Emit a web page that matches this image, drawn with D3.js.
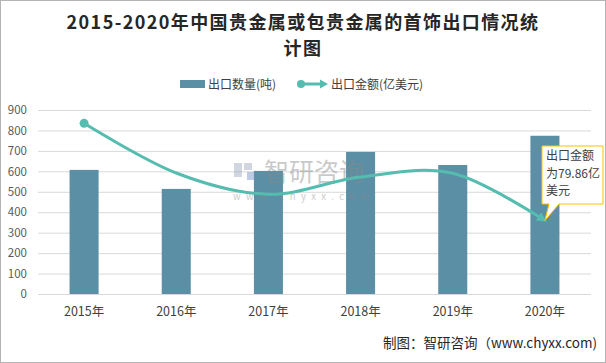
<!DOCTYPE html>
<html>
<head>
<meta charset="utf-8">
<script src="https://cdn.jsdelivr.net/npm/d3@7"></script>
<style>
  body { margin: 0; background: #fff; }
  text { font-family: "Noto Sans CJK SC", "Noto Sans", sans-serif; }
</style>
</head>
<body>
<div id="chart"></div>
<script>
// data
const years = ['2015年', '2016年', '2017年', '2018年', '2019年', '2020年'];
const quantity = [607, 514, 602, 695, 631, 774];          // 出口数量(吨)
const amount = [185.5, 131.5, 108.4, 127.2, 131.2, 79.86]; // 出口金额(亿美元)
const yTicks = [0, 100, 200, 300, 400, 500, 600, 700, 800, 900];

const width = 606;
const height = 363;
const barColor = '#5b8fa5';
const lineColor = '#55bcb0';

const svg = d3.select('#chart').append('svg')
    .attr('width', width)
    .attr('height', height);

svg.append('rect')
    .attr('x', 0.5).attr('y', 0.5)
    .attr('width', width - 1).attr('height', height - 1)
    .attr('fill', '#fff').attr('stroke', '#b4b4b4');

// scales
const x = d3.scaleBand().domain(years).range([38, 591]);
const y = d3.scaleLinear().domain([0, 900]).range([294, 110]);
const y2 = d3.scaleLinear().domain([0, 200]).range([294, 110]); // hidden secondary axis

// title
const title = svg.append('text')
    .attr('text-anchor', 'middle')
    .attr('font-family', '"Liberation Serif", "Noto Sans CJK SC", serif')
    .attr('font-weight', 'bold')
    .attr('font-size', 18)
    .attr('letter-spacing', 1.4)
    .attr('fill', '#262626');
title.append('tspan').attr('x', 303).attr('y', 29).text('2015-2020年中国贵金属或包贵金属的首饰出口情况统');
title.append('tspan').attr('x', 303).attr('y', 55).text('计图');

// legend
const legend = svg.append('g').attr('font-size', 12).attr('fill', '#404040');
legend.append('rect').attr('x', 180).attr('y', 80).attr('width', 25).attr('height', 8).attr('fill', barColor);
legend.append('text').attr('x', 208).attr('y', 88.5).text('出口数量(吨)');
legend.append('line').attr('x1', 301).attr('x2', 322).attr('y1', 84).attr('y2', 84)
    .attr('stroke', lineColor).attr('stroke-width', 3);
legend.append('circle').attr('cx', 301).attr('cy', 84).attr('r', 4).attr('fill', lineColor);
legend.append('path').attr('d', 'M320,79.5 L328,84 L320,88.5 Z').attr('fill', lineColor);
legend.append('text').attr('x', 331).attr('y', 88.5).text('出口金额(亿美元)');

// grid + left axis
const yAxis = d3.axisLeft(y).tickValues(yTicks).tickSize(-(591 - 38)).tickPadding(11);
const gy = svg.append('g').attr('transform', 'translate(38,0)').call(yAxis);
gy.select('.domain').remove();
gy.selectAll('line').attr('stroke', '#d9d9d9');
gy.selectAll('text').attr('font-size', 11.5).attr('fill', '#595959')
    .attr('font-family', '"Liberation Sans", "Noto Sans", sans-serif');

// x axis labels
const xAxis = d3.axisBottom(x).tickSize(0).tickPadding(13);
const gx = svg.append('g').attr('transform', 'translate(0,294)').call(xAxis);
gx.select('.domain').remove();
gx.selectAll('text').attr('font-size', 12.5).attr('fill', '#404040');

// bars
const bw = x.bandwidth() * 0.315;
svg.append('g').selectAll('rect')
    .data(quantity)
    .join('rect')
    .attr('x', (d, i) => x(years[i]) + x.bandwidth() / 2 - bw / 2)
    .attr('y', d => y(d))
    .attr('width', bw)
    .attr('height', d => y(0) - y(d))
    .attr('fill', barColor);

// watermark sits over the bars
const wm = svg.append('g').attr('opacity', 0.45);
wm.append('rect').attr('x', 234).attr('y', 163).attr('width', 8).attr('height', 14).attr('fill', '#9aa6bb');
wm.append('rect').attr('x', 244).attr('y', 163).attr('width', 8).attr('height', 7).attr('fill', '#9aa6bb');
wm.append('rect').attr('x', 247).attr('y', 172).attr('width', 8).attr('height', 8).attr('fill', '#6f8fc4');
wm.append('text').attr('x', 264).attr('y', 181).attr('font-size', 25).attr('fill', '#8a8a8a').text('智研咨询');
wm.append('text').attr('x', 233).attr('y', 200).attr('font-size', 9.5).attr('letter-spacing', 5.4)
    .attr('fill', '#8a8a8a').text('www.chyxx.com');

// line with start dot and end arrow
const defs = svg.append('defs');
defs.append('marker')
    .attr('id', 'arrow')
    .attr('viewBox', '0 0 10 10')
    .attr('refX', 8).attr('refY', 5)
    .attr('markerWidth', 3.2).attr('markerHeight', 3.2)
    .attr('orient', 'auto')
    .append('path').attr('d', 'M0,0 L10,5 L0,10 Z').attr('fill', lineColor);

const line = d3.line()
    .x((d, i) => x(years[i]) + x.bandwidth() / 2)
    .y(d => y2(d))
    .curve(d3.curveCardinal.tension(0));

svg.append('path')
    .datum(amount)
    .attr('d', line)
    .attr('fill', 'none')
    .attr('stroke', lineColor)
    .attr('stroke-width', 3)
    .attr('marker-end', 'url(#arrow)');

svg.append('circle')
    .attr('cx', x(years[0]) + x.bandwidth() / 2)
    .attr('cy', y2(amount[0]))
    .attr('r', 4.5)
    .attr('fill', lineColor);

// callout for last value
const lx = x(years[5]) + x.bandwidth() / 2;
const ly = y2(amount[5]);
const bx = 542, by = 146, bwid = 61, bh = 58;
svg.append('path')
    .attr('d', `M${bx},${by} H${bx + bwid} V${by + bh} H${bx + 17} L${lx},${ly} L${bx + 7},${by + bh} H${bx} Z`)
    .attr('fill', '#fff')
    .attr('stroke', '#ffc000')
    .attr('stroke-width', 1);
const callout = svg.append('text').attr('font-size', 12).attr('fill', '#404040');
['出口金额', '为' + amount[5] + '亿', '美元'].forEach((s, i) => {
    callout.append('tspan').attr('x', bx + 4).attr('y', by + 14 + i * 17.5).text(s);
});

// source
svg.append('text')
    .attr('x', 597).attr('y', 348)
    .attr('text-anchor', 'end')
    .attr('font-size', 13.5)
    .attr('font-family', '"Liberation Mono", "Noto Sans CJK SC", monospace')
    .attr('fill', '#262626')
    .text('制图：智研咨询（www.chyxx.com)');
</script>
</body>
</html>
